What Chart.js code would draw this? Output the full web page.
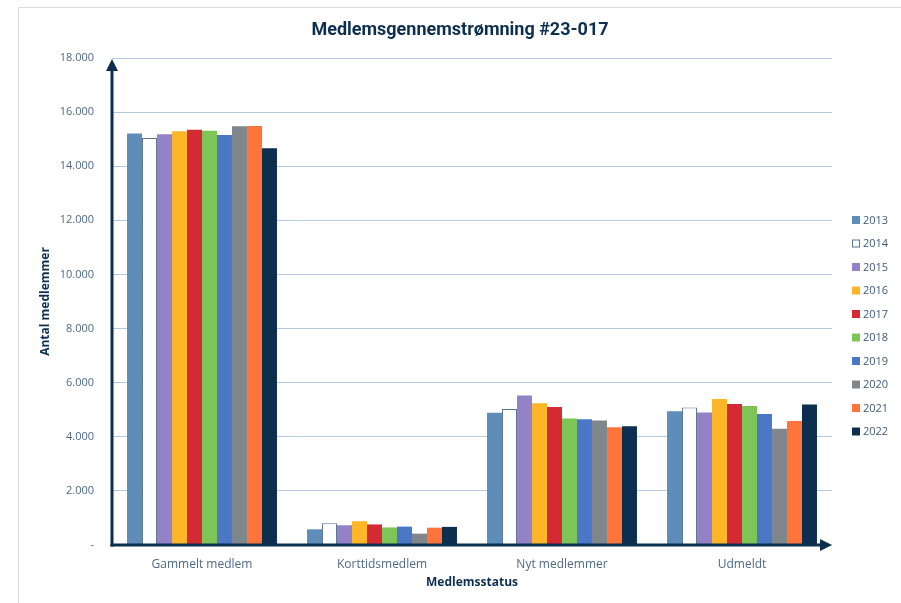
<!DOCTYPE html>
<html>
<head>
<meta charset="utf-8">
<script src="https://cdn.jsdelivr.net/npm/chart.js@4/dist/chart.umd.min.js"></script>
<style>
  html, body { margin: 0; padding: 0; background: #fff; }
</style>
</head>
<body>
<canvas id="chart1" width="901" height="603"></canvas>
<script>
// categories and one array per year
const categories = ['Gammelt medlem', 'Korttidsmedlem', 'Nyt medlemmer', 'Udmeldt'];
const years = ['2013', '2014', '2015', '2016', '2017', '2018', '2019', '2020', '2021', '2022'];

const y2013 = [15210, 580, 4890, 4940];
const y2014 = [15040, 800, 5030, 5080];
const y2015 = [15180, 730, 5530, 4900];
const y2016 = [15290, 880, 5240, 5400];
const y2017 = [15350, 760, 5100, 5210];
const y2018 = [15310, 650, 4680, 5140];
const y2019 = [15150, 680, 4650, 4840];
const y2020 = [15480, 420, 4600, 4300];
const y2021 = [15490, 640, 4350, 4580];
const y2022 = [14660, 670, 4390, 5190];

const yTicks = [0, 2000, 4000, 6000, 8000, 10000, 12000, 14000, 16000, 18000];

const series = [y2013, y2014, y2015, y2016, y2017, y2018, y2019, y2020, y2021, y2022];
const colors = ['#5f8db9', '#ffffff', '#9482c6', '#fdb628', '#d32a34', '#7dc556',
                '#4a78c7', '#7f878d', '#ff743b', '#0c2f50'];

const navy = '#0c2f50';
const tickColor = '#4e6987';

// thousand separator with dots, zero shown as a dash
function fmt(v) {
    if (v === 0) return '-';
    return String(v).replace(/\B(?=(\d{3})+(?!\d))/g, '.');
}

// title, legend, frame and arrow axes
const decor = {
    id: 'decor',
    beforeDraw(chart) {
        const ctx = chart.ctx;
        ctx.save();
        ctx.strokeStyle = '#dcdcdc';
        ctx.lineWidth = 1;
        ctx.beginPath();
        ctx.moveTo(18.5, 603);
        ctx.lineTo(18.5, 7.5);
        ctx.lineTo(901, 7.5);
        ctx.stroke();
        ctx.restore();
    },
    afterDraw(chart) {
        const ctx = chart.ctx;
        const { left, right, top, bottom } = chart.chartArea;
        ctx.save();

        // y axis with arrow
        ctx.strokeStyle = navy;
        ctx.fillStyle = navy;
        ctx.lineWidth = 3;
        ctx.beginPath();
        ctx.moveTo(left, bottom + 1.5);
        ctx.lineTo(left, top + 10);
        ctx.stroke();
        ctx.beginPath();
        ctx.moveTo(left, top + 1);
        ctx.lineTo(left - 6, top + 13);
        ctx.lineTo(left + 6, top + 13);
        ctx.closePath();
        ctx.fill();

        // x axis with arrow
        ctx.beginPath();
        ctx.moveTo(left - 1.5, bottom);
        ctx.lineTo(right - 10, bottom);
        ctx.stroke();
        ctx.beginPath();
        ctx.moveTo(right, bottom);
        ctx.lineTo(right - 12, bottom - 6);
        ctx.lineTo(right - 12, bottom + 6);
        ctx.closePath();
        ctx.fill();

        // title
        ctx.font = 'bold 18px Roboto';
        ctx.textAlign = 'center';
        ctx.textBaseline = 'middle';
        ctx.fillStyle = navy;
        ctx.fillText('Medlemsgennemstrømning #23-017', 460, 30);

        // legend
        ctx.font = '11px "Open Sans"';
        ctx.textAlign = 'left';
        chart.data.datasets.forEach((ds, i) => {
            const cy = 220 + i * 23.5;
            ctx.fillStyle = ds.backgroundColor;
            ctx.fillRect(852, cy - 4, 8, 8);
            if (ds.borderWidth) {
                ctx.strokeStyle = ds.borderColor;
                ctx.lineWidth = 1;
                ctx.strokeRect(852.5, cy - 3.5, 7, 7);
            }
            ctx.fillStyle = '#3e5a7a';
            ctx.fillText(ds.label, 863, cy + 0.5);
        });
        ctx.restore();
    }
};

const datasets = years.map((yr, i) => ({
    label: yr,
    data: series[i],
    backgroundColor: colors[i],
    borderColor: i === 1 ? '#5d7591' : colors[i],
    borderWidth: i === 1 ? 1 : 0,
    categoryPercentage: 0.833,
    barPercentage: 1.0
}));

const members_config = {
    type: 'bar',
    data: { labels: categories, datasets: datasets },
    options: {
        responsive: false,
        animation: false,
        devicePixelRatio: 1,
        layout: { padding: { top: 58, right: 69, left: 0, bottom: 0 } },
        plugins: {
            legend: { display: false },
            title: { display: false },
            tooltip: { enabled: false }
        },
        scales: {
            x: {
                grid: { display: false },
                border: { display: false },
                ticks: { color: tickColor, font: { family: 'Open Sans', size: 12 }, padding: 4 },
                title: {
                    display: true, text: 'Medlemsstatus', color: navy,
                    font: { family: 'Open Sans', size: 12, weight: 'bold' },
                    padding: { top: 0, bottom: 13 }
                },
                afterFit(s) { s.height = 58; }
            },
            y: {
                min: 0,
                max: 18000,
                afterBuildTicks(s) { s.ticks = yTicks.map(v => ({ value: v })); },
                grid: { color: '#b3cae0', drawTicks: false, lineWidth: 1 },
                border: { display: false },
                ticks: {
                    color: tickColor, font: { family: 'Open Sans', size: 11 }, padding: 18,
                    callback: v => fmt(v)
                },
                title: {
                    display: true, text: 'Antal medlemmer', color: navy,
                    font: { family: 'Open Sans', size: 12, weight: 'bold' },
                    padding: { top: 38, bottom: 0 }
                },
                afterFit(s) { s.width = 112; }
            }
        }
    },
    plugins: [decor]
};

const members_bar = new Chart(document.getElementById('chart1'), members_config);
</script>
</body>
</html>
